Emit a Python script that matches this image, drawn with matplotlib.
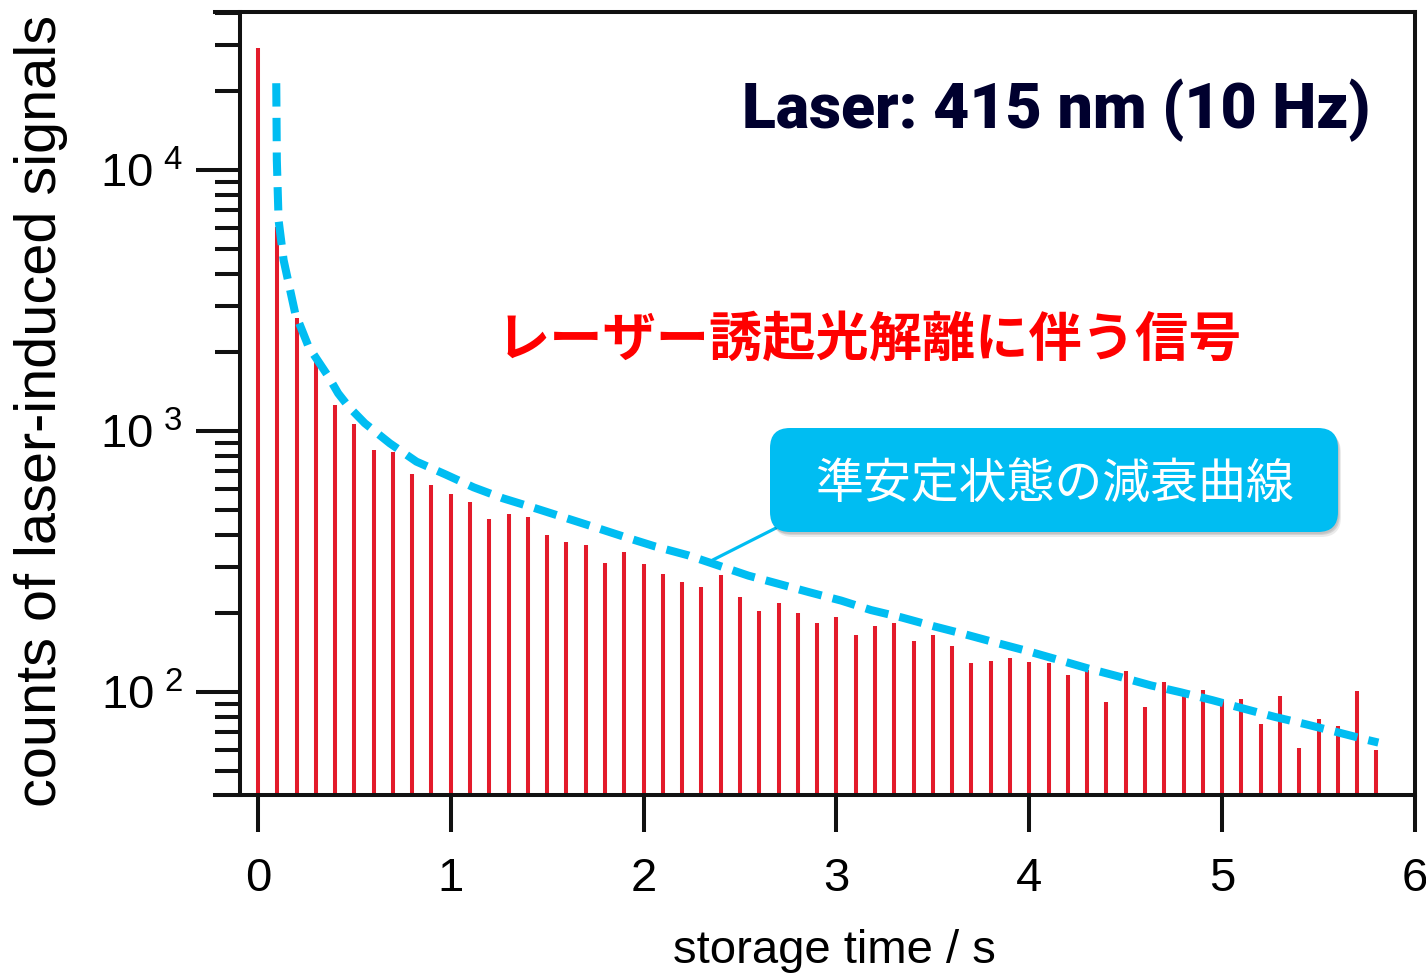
import matplotlib
matplotlib.use('Agg')
import matplotlib.pyplot as plt
from matplotlib.patches import FancyBboxPatch
from matplotlib.ticker import LogLocator, FuncFormatter, NullFormatter, FixedLocator

# ---------------- data ----------------
storage_time = [0.0, 0.1, 0.2, 0.3, 0.4, 0.5, 0.6, 0.7, 0.8, 0.9,
                1.0, 1.1, 1.2, 1.3, 1.4, 1.5, 1.6, 1.7, 1.8, 1.9,
                2.0, 2.1, 2.2, 2.3, 2.4, 2.5, 2.6, 2.7, 2.8, 2.9,
                3.0, 3.1, 3.2, 3.3, 3.4, 3.5, 3.6, 3.7, 3.8, 3.9,
                4.0, 4.1, 4.2, 4.3, 4.4, 4.5, 4.6, 4.7, 4.8, 4.9,
                5.0, 5.1, 5.2, 5.3, 5.4, 5.5, 5.6, 5.7, 5.8]
counts = [29400, 6070, 2700, 1880, 1258, 1064, 846, 831, 682, 621,
          575, 536, 459, 481, 470, 400, 374, 365, 313, 344,
          309, 283, 264, 252, 280, 232, 205, 220, 200, 184,
          193, 166, 179, 183, 157, 166, 150, 129, 131, 135,
          130, 129, 116, 121, 91.6, 120, 87.3, 109, 100, 102,
          93, 93.8, 75.4, 96.5, 61, 78.6, 74, 100.6, 60]

fit_time = [0.095, 0.098, 0.107, 0.133, 0.193, 0.263, 0.366, 0.416, 0.470,
            0.554, 0.684, 0.822, 0.972, 1.119, 1.271, 1.430, 1.585, 1.750,
            1.905, 2.06, 2.23, 2.389, 2.544, 2.705, 2.86, 3.024, 3.179,
            3.338, 3.499, 3.658, 3.819, 3.983, 4.147, 4.306, 4.466, 4.630,
            4.786, 4.95, 5.105, 5.269, 5.428, 5.589, 5.753, 5.81]
fit_counts = [21500, 10900, 6430, 4520, 2830, 2100, 1614, 1394, 1240,
              1071, 897, 763, 682, 608, 552, 508, 467, 427,
              392, 361, 334, 305, 279, 259, 241, 224, 206,
              193, 179, 167, 155, 144, 133, 123, 114.5, 106,
              99.7, 93, 86.6, 80.4, 75.4, 70.4, 65.5, 64.0]

x_ticks = [0, 1, 2, 3, 4, 5, 6]
x_ticklabels = ['0', '1', '2', '3', '4', '5', '6']
y_major = [1e2, 1e3, 1e4]

title_text = 'Laser: 415 nm (10 Hz)'
signal_text = 'レーザー誘起光解離に伴う信号'
callout_text = '準安定状態の減衰曲線'
xlabel = 'storage time / s'
ylabel = 'counts of laser-induced signals'

# ---------------- style ----------------
BAR = '#E31B2B'
CYAN = '#00BDF2'
W, H = 1426, 975
plt.rcParams['font.family'] = ['Liberation Sans', 'DejaVu Sans']
plt.rcParams['mathtext.fontset'] = 'custom'
plt.rcParams['mathtext.rm'] = 'Liberation Sans'

fig = plt.figure(figsize=(W / 100, H / 100), dpi=100)
ax = fig.add_axes([240 / W, 1 - 795 / H, 1175 / W, 783 / H])

ymin, ymax = 40.3, 40300
ax.set_yscale('log')
ax.set_xlim(-0.093, 6.0)
ax.set_ylim(ymin, ymax)

# bars (drop lines)
ax.vlines(storage_time, ymin, counts, colors=BAR, linewidth=2.9, zorder=2)

# fitted decay curve
ax.plot(fit_time, fit_counts, color=CYAN, linewidth=5.8, linestyle=(0, (2.9, 1.4)),
        zorder=3, dash_capstyle='butt', dash_joinstyle='round')

# spines
for s in ['left', 'right', 'top', 'bottom']:
    ax.spines[s].set_linewidth(2.9)
    ax.spines[s].set_color('#111111')
ext = -0.093 - 25 / 193
ax.spines['top'].set_bounds(ext, 6.0)
ax.spines['bottom'].set_bounds(ext, 6.0)

# ticks
ax.xaxis.set_major_locator(FixedLocator(x_ticks))
ax.set_xticklabels(x_ticklabels)
ax.yaxis.set_major_locator(FixedLocator(y_major))
ax.yaxis.set_minor_locator(LogLocator(base=10, subs=[2, 3, 4, 5, 6, 7, 8, 9], numticks=20))
ax.yaxis.set_minor_formatter(NullFormatter())


def yfmt(v, pos):
    import math
    e = int(round(math.log10(v)))
    return r'$\mathregular{10^{\ %d}}$' % e


ax.yaxis.set_major_formatter(FuncFormatter(yfmt))
ax.tick_params(axis='x', which='major', direction='out', length=26.5, width=2.9,
               labelsize=34, pad=18, color='#111111')
ax.tick_params(axis='y', which='major', direction='out', length=32, width=2.9,
               labelsize=34, pad=9, color='#111111')
ax.tick_params(axis='y', which='minor', direction='out', length=18, width=2.9,
               color='#111111')
ax.tick_params(top=False, right=False, which='both')

ax.set_xlabel(xlabel, fontsize=34)
ax.xaxis.set_label_coords(0.506, -0.171)
ax.set_ylabel(ylabel, fontsize=41.5)
ax.yaxis.set_label_coords(-0.146, 0.4904)

# texts
ax.text(0.9617, 0.852, title_text, transform=ax.transAxes, ha='right', va='baseline',
        fontsize=45, fontweight='heavy', color='#00002E',
        family=['Roboto', 'DejaVu Sans'])
ax.text(0.2187, 0.5812, signal_text, transform=ax.transAxes, ha='left', va='center',
        fontsize=38.3, fontweight='bold', color='#FF0000',
        family=['Noto Sans CJK JP', 'DejaVu Sans'])

# callout box
bx0, by0 = (770 - 240) / 1175, (795 - 532) / 783
bw, bh = (1338 - 770) / 1175, (532 - 428) / 783
for dx, dy, a in [(2, -3, 0.10), (3, -5, 0.08), (1, -2, 0.08)]:
    shadow = FancyBboxPatch((bx0 + dx / 1175, by0 + dy / 783), bw, bh,
                            boxstyle='round,pad=0,rounding_size=0.017', mutation_aspect=1175 / 783,
                            transform=ax.transAxes, facecolor='#000000', alpha=a,
                            edgecolor='none', zorder=5)
    ax.add_patch(shadow)
box = FancyBboxPatch((bx0, by0), bw, bh,
                     boxstyle='round,pad=0,rounding_size=0.017', mutation_aspect=1175 / 783,
                     transform=ax.transAxes, facecolor=CYAN, edgecolor='none', zorder=6)
ax.add_patch(box)
ax.text(0.6928, 0.3975, callout_text, transform=ax.transAxes, ha='center', va='center',
        fontsize=34.5, color='white', zorder=7,
        family=['Noto Sans CJK JP', 'DejaVu Sans'])
ax.annotate('', xy=(2.357, 320), xycoords='data',
            xytext=((776 - 240) / 1175, (795 - 528) / 783), textcoords='axes fraction',
            arrowprops=dict(arrowstyle='-', color=CYAN, lw=2.3, shrinkA=0, shrinkB=0),
            zorder=4)

fig.savefig('out.png', dpi=100)
